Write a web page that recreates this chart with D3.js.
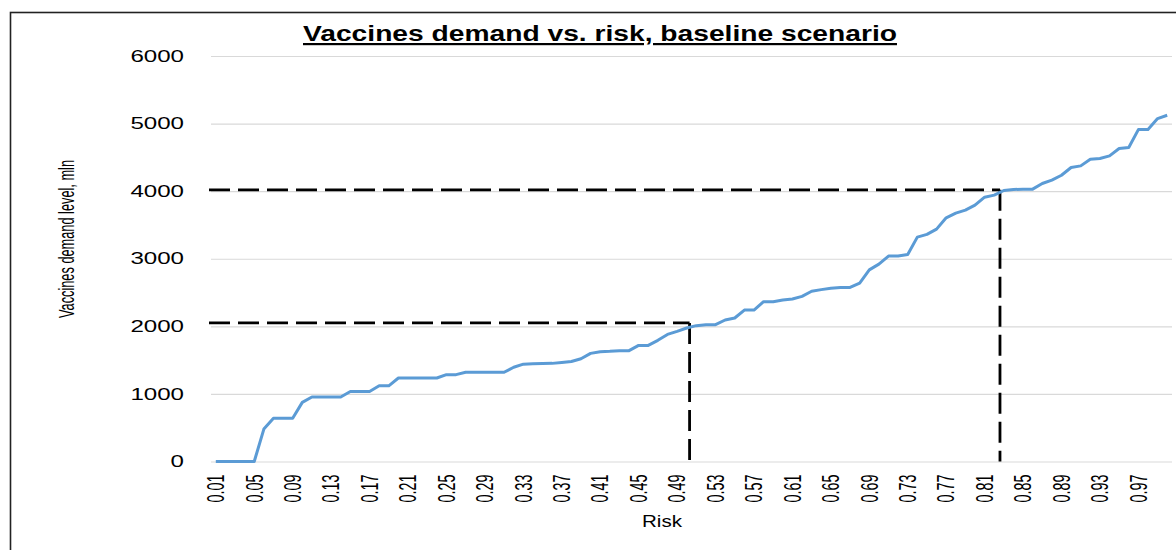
<!DOCTYPE html>
<html>
<head>
<meta charset="utf-8">
<script src="https://cdn.jsdelivr.net/npm/d3@7"></script>
<style>
  html, body { margin: 0; padding: 0; background: #fff; }
  svg { display: block; }
  text { font-family: "Liberation Sans", Arial, sans-serif; fill: #000; }
</style>
</head>
<body>
<svg id="chart" width="1176" height="550"></svg>
<script>
// ---------- DATA ----------
const categories = ("0.01 0.02 0.03 0.04 0.05 0.06 0.07 0.08 0.09 0.10 " +
  "0.11 0.12 0.13 0.14 0.15 0.16 0.17 0.18 0.19 0.20 " +
  "0.21 0.22 0.23 0.24 0.25 0.26 0.27 0.28 0.29 0.30 " +
  "0.31 0.32 0.33 0.34 0.35 0.36 0.37 0.38 0.39 0.40 " +
  "0.41 0.42 0.43 0.44 0.45 0.46 0.47 0.48 0.49 0.50 " +
  "0.51 0.52 0.53 0.54 0.55 0.56 0.57 0.58 0.59 0.60 " +
  "0.61 0.62 0.63 0.64 0.65 0.66 0.67 0.68 0.69 0.70 " +
  "0.71 0.72 0.73 0.74 0.75 0.76 0.77 0.78 0.79 0.80 " +
  "0.81 0.82 0.83 0.84 0.85 0.86 0.87 0.88 0.89 0.90 " +
  "0.91 0.92 0.93 0.94 0.95 0.96 0.97 0.98 0.99 1.00").split(" ");

const demand = [
  0, 0, 0, 0, 0, 480, 640, 640, 640, 875,
  955, 955, 955, 955, 1035, 1035, 1035, 1120, 1120, 1235,
  1235, 1235, 1235, 1235, 1285, 1285, 1320, 1320, 1320, 1320,
  1320, 1395, 1440, 1445, 1450, 1452, 1465, 1480, 1520, 1600,
  1625, 1630, 1640, 1640, 1718, 1718, 1793, 1880, 1925, 1975,
  2010, 2025, 2025, 2094, 2123, 2240, 2240, 2365, 2365, 2390,
  2405, 2444, 2519, 2543, 2563, 2575, 2575, 2640, 2835, 2920,
  3040, 3040, 3064, 3320, 3360, 3438, 3606, 3675, 3719, 3793,
  3911, 3941, 4010, 4025, 4030, 4030, 4113, 4163, 4236, 4350,
  4374, 4473, 4483, 4522, 4631, 4645, 4911, 4911, 5074, 5123
];

const xTickLabels = ["0.01","0.05","0.09","0.13","0.17","0.21","0.25","0.29","0.33",
  "0.37","0.41","0.45","0.49","0.53","0.57","0.61","0.65","0.69","0.73","0.77",
  "0.81","0.85","0.89","0.93","0.97"];
const yTicks = [0, 1000, 2000, 3000, 4000, 5000, 6000];

// reference (dashed) markers: risk value and demand level
const refRisk = [0.503, 0.826];
const refLevel = [2050, 4020];

const titleText = "Vaccines demand vs. risk, baseline scenario";
const xTitle = "Risk";
const yTitle = "Vaccines demand level, mln";

// ---------- LAYOUT ----------
(function () {
const svg = d3.select("#chart");
const pLeft = 211, pRight = 1172, pTop = 56, pBottom = 461.5;

// outer border
svg.append("rect")
  .attr("x", 10.5).attr("y", 12.5)
  .attr("width", 1300).attr("height", 700)
  .attr("fill", "none").attr("stroke", "#222").attr("stroke-width", 1.6);

const x = d3.scaleBand().domain(categories).range([pLeft, pRight]);
const y = d3.scaleLinear().domain([0, 6000]).range([pBottom, pTop]);
const cx = c => x(c) + x.bandwidth() / 2;
const xr = r => cx(categories[0]) + (r - (+categories[0])) * 100 * x.step();

// Y axis with gridlines
const gy = svg.append("g")
  .attr("transform", `translate(${pLeft},0)`)
  .call(d3.axisLeft(y).tickValues(yTicks).tickFormat(d3.format("d"))
    .tickSize(-(pRight - pLeft)).tickPadding(27));
gy.select(".domain").remove();
gy.selectAll(".tick line").attr("stroke", "#d9d9d9").attr("stroke-width", 1.2);
gy.selectAll(".tick text")
  .attr("font-size", 16)
  .attr("font-family", "'DejaVu Sans', 'Liberation Sans', sans-serif")
  .attr("fill", "#000")
  .attr("textLength", d => String(d).length * 13.4)
  .attr("lengthAdjust", "spacingAndGlyphs");

// X axis
const gx = svg.append("g")
  .attr("transform", `translate(0,${pBottom})`)
  .call(d3.axisBottom(x).tickValues(xTickLabels).tickSize(0));
gx.select(".domain").remove();
gx.selectAll(".tick text")
  .attr("font-size", 23)
  .attr("fill", "#000")
  .attr("text-anchor", "end")
  .attr("transform", "rotate(-90)")
  .attr("x", -13)
  .attr("y", 0)
  .attr("dy", "0.36em")
  .attr("textLength", 28)
  .attr("lengthAdjust", "spacingAndGlyphs");

// dashed reference lines
const dash = "21,8";
refRisk.forEach((r, i) => {
  svg.append("line")
    .attr("x1", pLeft - 2).attr("x2", xr(r))
    .attr("y1", y(refLevel[i])).attr("y2", y(refLevel[i]))
    .attr("stroke", "#000").attr("stroke-width", 2.8)
    .attr("stroke-dasharray", dash);
  svg.append("line")
    .attr("x1", xr(r)).attr("x2", xr(r))
    .attr("y1", y(refLevel[i])).attr("y2", y(0))
    .attr("stroke", "#000").attr("stroke-width", 2.8)
    .attr("stroke-dasharray", dash);
});

// data line
const line = d3.line()
  .x((d, i) => cx(categories[i]))
  .y(d => y(d));
svg.append("path")
  .datum(demand)
  .attr("d", line)
  .attr("fill", "none")
  .attr("stroke", "#5B9BD5")
  .attr("stroke-width", 3)
  .attr("stroke-linejoin", "round");

// title
svg.append("text")
  .attr("x", 600).attr("y", 41)
  .attr("text-anchor", "middle")
  .attr("font-size", 22)
  .attr("font-weight", "bold")
  .attr("text-decoration", "underline")
  .attr("textLength", 594)
  .attr("lengthAdjust", "spacingAndGlyphs")
  .text(titleText);

// x title
svg.append("text")
  .attr("x", 662).attr("y", 527)
  .attr("text-anchor", "middle")
  .attr("font-size", 16.5)
  .attr("textLength", 40)
  .attr("lengthAdjust", "spacingAndGlyphs")
  .text(xTitle);

// y title
svg.append("text")
  .attr("transform", "translate(74,239) rotate(-90)")
  .attr("text-anchor", "middle")
  .attr("font-size", 22)
  .attr("textLength", 158)
  .attr("lengthAdjust", "spacingAndGlyphs")
  .text(yTitle);
})();
</script>
</body>
</html>
